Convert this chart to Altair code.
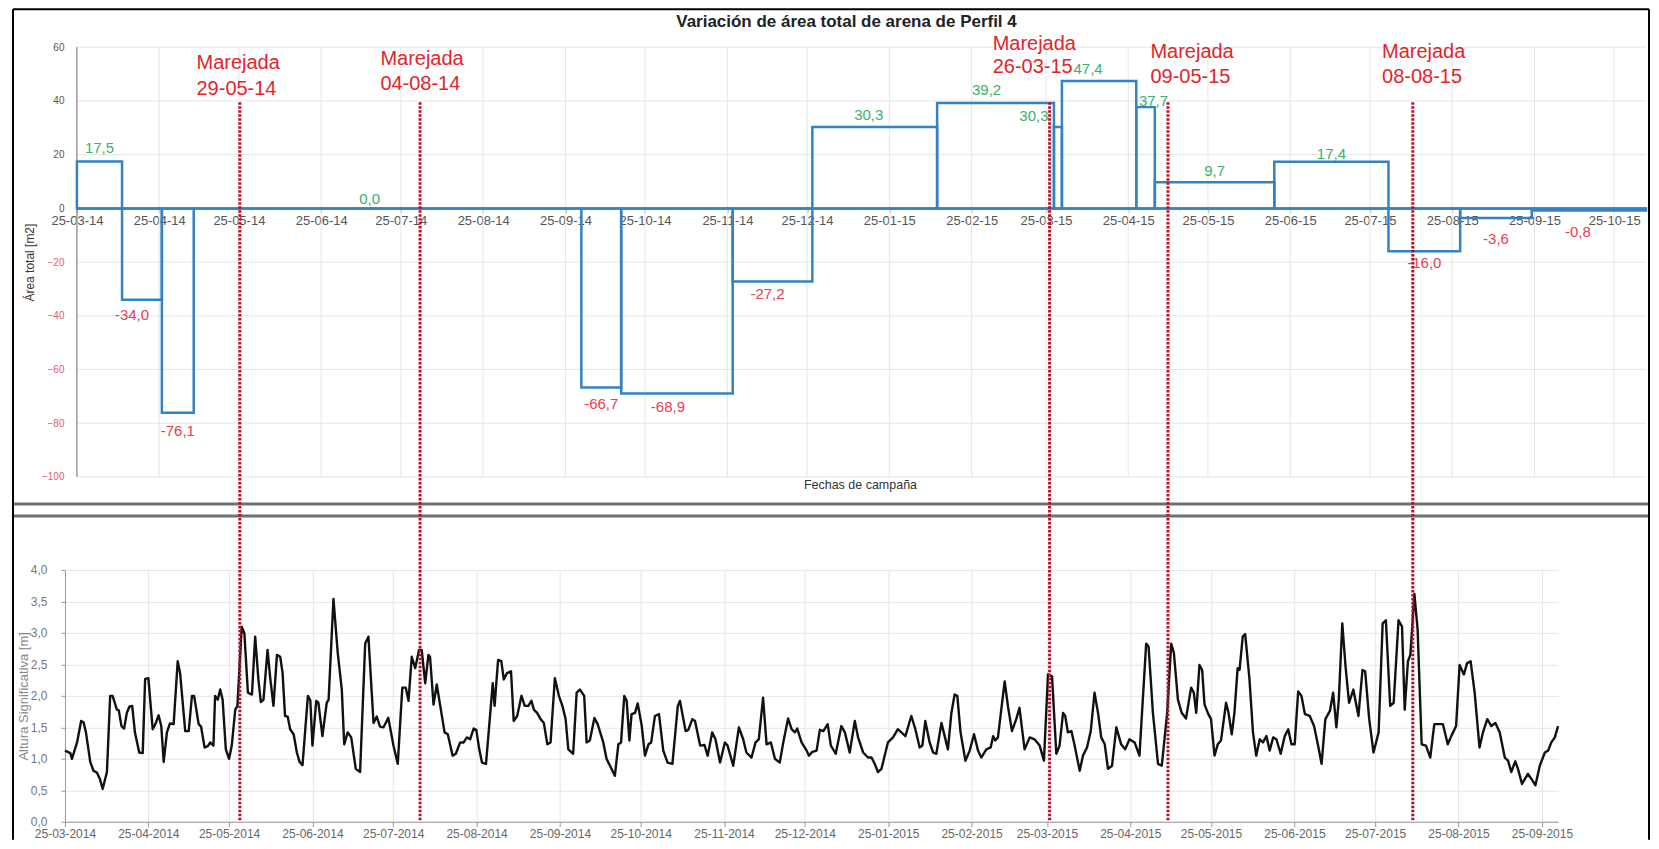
import altair as alt
import pandas as pd

# ------------------------------------------------------------------ data
chart_title = "Variación de área total de arena de Perfil 4"

campaign_start = ["2014-03-25", "2014-04-11", "2014-04-26", "2014-05-08", "2014-10-01",
                  "2014-10-16", "2014-11-27", "2014-12-27", "2015-02-12", "2015-03-28",
                  "2015-03-31", "2015-04-28", "2015-05-05", "2015-06-19", "2015-08-01",
                  "2015-08-28", "2015-09-24"]
campaign_end = campaign_start[1:] + ["2015-11-06"]
area_change = [17.5, -34.0, -76.1, 0.0, -66.7, -68.9, -27.2, 30.3, 39.2, 30.3,
               47.4, 37.7, 9.7, 17.4, -16.0, -3.6, -0.8]

event_dates = ["2014-05-29", "2014-08-04", "2015-03-26", "2015-05-09", "2015-08-08"]
event_texts = ["29-05-14", "04-08-14", "26-03-15", "09-05-15", "08-08-15"]

top_ticks = ["2014-03-25", "2014-04-25", "2014-05-25", "2014-06-25", "2014-07-25",
             "2014-08-25", "2014-09-25", "2014-10-25", "2014-11-25", "2014-12-25",
             "2015-01-25", "2015-02-25", "2015-03-25", "2015-04-25", "2015-05-25",
             "2015-06-25", "2015-07-25", "2015-08-25", "2015-09-25", "2015-10-25"]
bottom_ticks = top_ticks[:-1]
area_ticks = [-100, -80, -60, -40, -20, 0, 20, 40, 60]
hs_ticks = [0, 0.5, 1.0, 1.5, 2.0, 2.5, 3.0, 3.5, 4.0]

# significant wave height: days since 25-03-2014, value [m]
wave_day = [0, 2, 2.6, 4.5, 6, 6.9, 7.8, 9.4, 10.6, 11.9, 13, 14, 15.6, 16.8, 17.7, 19.3, 20, 21, 22, 23,
            24, 25, 26, 27.6, 28.9, 29.8, 31, 32.6, 33.6, 34.8, 35.8, 36.7, 37.9, 39, 40.4, 41.9, 42.8,
            44.7, 46, 47.2, 48, 49.7, 50.6, 51.9, 53.1, 54, 55.2, 55.8, 56.8, 57.7, 58.6, 59.8, 61, 62,
            63.3, 64.1, 65.7, 66.7, 68, 69.5, 70.7, 71.9, 72.8, 73.8, 75.3, 76.3, 77.5, 78.8, 80, 80.9,
            81.8, 82.8, 83.7, 85, 86.2, 87.2,
            88.3, 90.3, 91.2, 92, 93.4, 94.2, 95.7, 97.3, 98, 99.8, 101.4, 102.9, 103.8, 105.1, 106.4,
            108.1, 109.7, 111.6, 112.8, 114.7, 115.9, 117.1, 118.4, 120.2, 122.1, 123.7, 125.4, 126.7,
            127.7, 128.9, 130.2, 131.6, 132.6, 133.9, 135.1, 135.7, 137, 138.2, 139.5, 141.1, 142.3,
            144.1, 145.3, 146.9, 148.2, 149.4, 150.6, 151.9, 152.9, 154, 155, 156.5, 158.1, 159, 159.7,
            161, 162.2, 163.1, 164.3, 165.8, 166.8, 168.1, 169.7, 170.9, 172.2, 173.4, 174.3, 175.5,
            176.8, 178, 179.3, 180.5, 182.1, 183.6, 184.9, 186.1, 187.1, 188.9,
            190.2, 191.4, 193, 193.9, 195.1, 196.8, 198, 200.1, 201.3, 202.6, 204.4, 205.7, 206.7,
            207.9, 208.8, 209.8, 210.6, 211.9, 212.9, 214.4, 215.6, 216.9, 217.9, 219.3, 220.8, 222.4,
            224, 225.8, 227.8, 228.6, 230.7, 231.7, 233.2, 234.2, 236.1, 237.7, 238.9, 240.6, 241.8,
            243.5, 245.3, 246.3, 248.4, 250.5, 252.1, 253.3, 255.2, 256.7, 257.9, 259.5, 260.8, 262.4,
            263.9, 265.7, 267, 268.8, 270.1, 271.3, 272.2, 273.8, 275.7, 276.5, 277.8, 279.4, 280.6,
            281.9, 283.5, 284.7, 286.5,
            288.6, 289.9, 291.7, 293.6, 294.8, 296.7, 298.5, 299.8, 301, 302.2, 303.5, 305.9, 307.8,
            309.6, 310.9, 312.4, 314.6, 316.1, 317.7, 318.7, 319.8, 321.4, 322.7, 323.9, 325.8, 327,
            328.2, 329.5, 330.7, 331.7, 332.9, 334.7, 336.3, 337.9, 339.4, 340.6, 342.5, 344.1, 345,
            345.8, 346.8, 349.3, 350.5, 352, 353.6, 354.8, 356.7, 358.6, 360.4, 362.3, 363.9, 365.4,
            366.9, 368.5, 369.7, 371, 371.8, 372.8, 374.1, 375.3, 377.2, 378.4, 379.9, 381.3, 382.7,
            384, 385.2, 386.5, 387.7, 389.2, 390.8,
            392.6, 394.1, 395.7, 397.6, 399.4, 401.9, 402.8, 404.4, 406.3, 407.7, 409.7, 411.2, 412.2,
            413.7, 415.1, 416.7, 418.6, 419.6, 420.5, 421.7, 422.7, 423.6, 425, 426, 427.3, 428.5,
            429.7, 431.6, 432.5, 433.7, 434.7, 435.9, 436.6, 437.8, 438.7, 440.3, 441.6, 442.8, 444.1,
            445.3, 446.6, 447.8, 449.1, 450.3, 451.9, 453.4, 454.7, 455.9, 457.1, 458.4, 459.6, 460.9,
            462.7, 464.3, 465.8, 467.1, 468.5, 470.2, 471.4, 472.6, 473.5, 474.8, 476, 477.3, 478.9,
            480.8, 482.3, 483.3, 484.8, 486.4, 488.3, 489.8, 491, 492.6, 493.9, 495.7, 497, 498, 499.2,
            500.1,
            501.6, 502.8, 504.3, 505.9, 507.5, 509, 510.3, 512.2, 514, 515.3, 517.1, 518.4, 520, 521.2,
            522.5, 524, 525.8, 527.1, 528.7, 530.2, 531.7, 533.3, 535.2, 536.4, 537.6, 539.1, 540.1,
            541.6, 543.8, 545.1, 546.6, 548.2, 550.1, 551.3, 552.5, 553.8, 555]
wave_hs = [1.13, 1.09, 1.0, 1.26, 1.6, 1.58, 1.42, 0.95, 0.81, 0.78, 0.68, 0.52, 0.79, 2.0, 2.0, 1.78, 1.77,
           1.52, 1.48, 1.73, 1.83, 1.84, 1.42, 1.1, 1.09, 2.27, 2.28, 1.47, 1.55, 1.69, 1.52, 0.95, 1.42,
           1.56, 1.55, 2.55, 2.36, 1.44, 1.44, 2.0, 2.0, 1.55, 1.51, 1.18, 1.2, 1.26, 1.21, 2.0, 1.94,
           2.1, 1.94, 1.15, 1.0, 1.21, 1.78, 1.84, 3.1, 2.99, 2.05, 2.02, 2.94, 2.26, 1.9, 1.94, 2.73,
           2.28, 1.84, 2.65, 2.62, 2.36, 1.68, 1.67, 1.47, 1.39, 1.1, 0.95,
           0.9, 2.0, 1.93, 1.21, 1.92, 1.89, 1.36, 1.89, 1.94, 3.54, 2.68, 2.1, 1.23, 1.42, 1.34, 0.84,
           0.79, 2.83, 2.94, 1.57, 1.67, 1.51, 1.5, 1.65, 1.21, 0.92, 2.13, 2.13, 1.92, 2.62, 2.44, 2.73,
           2.73, 2.2, 2.65, 2.62, 1.86, 2.18, 1.84, 1.42, 1.39, 1.05, 1.08, 1.26, 1.26, 1.34, 1.31, 1.48,
           1.46, 1.15, 0.94, 0.92, 1.73, 2.2, 1.84, 2.57, 2.55, 2.26, 2.36, 2.39, 1.6, 1.68, 2.0, 1.84,
           1.84, 1.92, 1.78, 1.73, 1.63, 1.57, 1.23, 1.26, 2.28, 2.0, 1.84, 1.63, 1.15, 1.08,
           2.05, 2.1, 2.0, 1.26, 1.29, 1.65, 1.55, 1.26, 1.0, 0.89, 0.73, 1.23, 1.26, 2.0, 1.92, 1.29,
           1.71, 1.73, 1.88, 1.52, 1.05, 1.23, 1.26, 1.68, 1.71, 1.13, 0.94, 0.92, 1.84, 1.92, 1.44,
           1.46, 1.63, 1.6, 1.21, 1.22, 1.05, 1.42, 1.31, 0.94, 1.26, 1.21, 0.89, 1.5, 1.31, 1.1, 1.02,
           1.26, 1.31, 1.97, 1.23, 1.26, 1.0, 0.94, 1.26, 1.64, 1.47, 1.42, 1.48, 1.26, 1.13, 1.05, 1.11,
           1.13, 1.46, 1.44, 1.55, 1.21, 1.08,
           1.52, 1.42, 1.1, 1.6, 1.34, 1.1, 1.02, 1.02, 0.92, 0.79, 0.84, 1.26, 1.34, 1.47, 1.42, 1.36,
           1.68, 1.47, 1.18, 1.21, 1.6, 1.26, 1.1, 1.08, 1.57, 1.36, 1.15, 1.73, 2.02, 2.0, 1.42, 0.97,
           1.13, 1.39, 1.13, 1.02, 1.15, 1.18, 1.36, 1.29, 1.34, 2.23, 1.84, 1.44, 1.63, 1.81, 1.15,
           1.34, 1.31, 1.21, 0.97, 2.34, 2.31, 1.08, 1.21, 1.73, 1.68, 1.42, 1.44, 1.21, 0.81, 1.05,
           1.18, 1.44, 2.05, 1.73, 1.34, 1.23, 0.84, 0.89, 1.5,
           1.23, 1.15, 1.31, 1.26, 1.05, 2.83, 2.78, 1.73, 0.92, 0.89, 1.73, 2.83, 2.68, 1.94, 1.73,
           1.64, 2.13, 2.05, 1.73, 2.49, 2.41, 1.86, 1.71, 1.63, 1.05, 1.23, 1.29, 1.89, 1.73, 1.39,
           1.73, 2.44, 2.41, 2.94, 2.98, 2.26, 1.42, 1.05, 1.31, 1.26, 1.36, 1.13, 1.34, 1.31, 1.08,
           1.36, 1.47, 1.23, 1.23, 2.07, 2.0, 1.71, 1.68, 1.52, 1.21, 0.92, 1.63, 1.76, 2.05, 1.5, 1.94,
           3.15, 2.47, 1.89, 2.1, 1.68, 2.41, 2.39, 1.63, 1.1, 1.42, 3.15, 3.2, 1.84, 1.89, 3.2, 3.1,
           1.78, 2.55, 2.65,
           3.62, 3.05, 1.23, 1.21, 1.02, 1.55, 1.55, 1.55, 1.23, 1.36, 1.52, 2.49, 2.34, 2.52, 2.55,
           2.05, 1.18, 1.42, 1.63, 1.52, 1.57, 1.42, 1.02, 0.97, 0.79, 0.96, 0.84, 0.6, 0.76, 0.68,
           0.58, 0.89, 1.1, 1.13, 1.26, 1.34, 1.52]

# ------------------------------------------------------------------ styling / layout
FONT = "Liberation Sans"
W_TOP, H_TOP = 1582, 430
W_BOT, H_BOT = 1494, 252
GAP = 93

BLUE = "#3282c4"
GREEN = "#3daf6d"
RED_VAL = "#e5404f"
RED_TXT = "#e3242b"
RED_LINE = "#b0142c"
GRID = "#e6e6e6"

# per-label nudges (pixels) for the value annotations
value_dx = [0, -10, 0, -18, 0, -9, -5, -6, -9, -24, -11, 8, 0, 0, 0, 0, -11]
value_dy = [-13, 15, 18, -9, 16, 14, 13, -12, -13, -11, -12, -6, -11, -8, 12, 21, 21]
# storm label placement (pixels)
storm_dx = [-53, -47, -56, -15, -25]
storm_y1 = [16, 12, -3, 5, 5]
storm_y2 = [42, 37, 20, 30, 30]


def ms(s):
    return int(pd.Timestamp(s, tz="UTC").value // 10**6)


DAY = 86400000
top_dom = [ms("2014-03-20 12:00"), ms("2015-11-06")]
bot_dom = [ms("2014-03-25"), ms("2015-10-01")]


def px_top(t):
    return (t - top_dom[0]) / (top_dom[1] - top_dom[0]) * W_TOP


x_axis_px = px_top(ms("2014-03-25"))
y0_px = 60 / 160 * H_TOP

xs_top = alt.Scale(type="utc", domain=top_dom)
ys_top = alt.Scale(domain=[-100, 60], nice=False, zero=False)
xs_bot = alt.Scale(type="utc", domain=bot_dom)
ys_bot = alt.Scale(domain=[0, 4], nice=False, zero=False)

x_axis_top = alt.Axis(values=[ms(d) for d in top_ticks], format="%d-%m-%y",
                      offset=-(H_TOP - y0_px), domain=False, ticks=True, tickSize=4,
                      tickColor="#9a9a9a", grid=False,
                      labelFontSize=13, labelColor="#555555", labelPadding=2,
                      labelFlush=False, labelOverlap=False, title=None)
y_axis_top = alt.Axis(values=area_ticks, domain=False, ticks=False, grid=False,
                      labelPadding=1, labelFontSize=10,
                      labelColor={"condition": {"test": "datum.value < 0", "value": "#e25b6b"},
                                  "value": "#555555"},
                      title="Área total [m2]", titleFontSize=12, titleFontWeight="normal",
                      titleColor="#333333", titlePadding=5)
x_axis_bot = alt.Axis(values=[ms(d) for d in bottom_ticks], format="%d-%m-%Y",
                      labelFontSize=12, labelColor="#666666", domainColor="#999999",
                      tickColor="#999999", tickSize=5, labelPadding=2, labelFlush=False,
                      labelOverlap=False, grid=True, gridColor=GRID, title=None)
y_axis_bot = alt.Axis(values=hs_ticks,
                      labelExpr="replace(format(datum.value, '.1f'), '.', ',')",
                      labelFontSize=12, labelColor="#777777", domainColor="#999999",
                      tickColor="#999999", tickSize=4, labelPadding=14, grid=True, gridColor=GRID,
                      title="Altura Significativa [m]", titleFontSize=13, titleFontWeight="normal",
                      titleColor="#888888", titlePadding=0)


def XT(field):
    return alt.X(field, type="temporal", scale=xs_top, axis=x_axis_top)


def YT(field):
    return alt.Y(field, type="quantitative", scale=ys_top, axis=y_axis_top)


def XB(field):
    return alt.X(field, type="temporal", scale=xs_bot, axis=x_axis_bot)


one = pd.DataFrame({"a": [0]})

# ------------------------------------------------------------------ top panel
camp = pd.DataFrame({
    "start": [ms(d) for d in campaign_start],
    "end": [ms(d) for d in campaign_end],
    "value": area_change,
})
camp["mid"] = (camp["start"] + camp["end"]) / 2
camp["zero"] = 0
camp["label"] = [f"{v:.1f}".replace(".", ",") for v in area_change]

events = pd.DataFrame({"d": [ms(d) for d in event_dates], "txt": event_texts})
events["m"] = "Marejada"

top_layers = []

top_layers.append(
    alt.Chart(pd.DataFrame({"value": area_ticks})).mark_rule(color=GRID, strokeWidth=1).encode(
        y=YT("value"), x=alt.value(x_axis_px), x2=alt.value(W_TOP)))
top_layers.append(
    alt.Chart(pd.DataFrame({"start": [ms(d) for d in top_ticks[1:]]})).mark_rule(
        color=GRID, strokeWidth=1).encode(
        x=XT("start"), y=alt.value(0), y2=alt.value(H_TOP)))
top_layers.append(
    alt.Chart(one).mark_rule(color="#9a9a9a", strokeWidth=1.5).encode(
        x=alt.value(x_axis_px), y=alt.value(0), y2=alt.value(H_TOP)))
top_layers.append(
    alt.Chart(one).mark_rule(color="#4f86bd", strokeWidth=2.5).encode(
        x=alt.value(x_axis_px), x2=alt.value(W_TOP), y=alt.value(y0_px)))

top_layers.append(
    alt.Chart(camp).mark_rect(fillOpacity=0, stroke=BLUE, strokeWidth=2.5).encode(
        x=XT("start"), x2="end:T", y=YT("value"), y2="zero:Q"))

for i in range(len(camp)):
    col = GREEN if area_change[i] >= 0 else RED_VAL
    top_layers.append(
        alt.Chart(camp.iloc[[i]]).mark_text(fontSize=15, color=col, dx=value_dx[i], dy=value_dy[i],
                                            baseline="middle", align="center").encode(
            x=XT("mid"), y=YT("value"), text="label:N"))

for i in range(len(events)):
    ev = events.iloc[[i]]
    top_layers.append(
        alt.Chart(ev).mark_text(fontSize=20, color=RED_TXT, align="left", baseline="middle",
                                dx=storm_dx[i]).encode(
            x=XT("d"), y=alt.value(storm_y1[i]), text="m:N"))
    top_layers.append(
        alt.Chart(ev).mark_text(fontSize=20, color=RED_TXT, align="left", baseline="middle",
                                dx=storm_dx[i]).encode(
            x=XT("d"), y=alt.value(storm_y2[i]), text="txt:N"))

top_layers.append(
    alt.Chart(pd.DataFrame({"t": [chart_title]})).mark_text(
        fontSize=17, fontWeight="bold", color="#222222", baseline="middle").encode(
        x=alt.value(782), y=alt.value(-25), text="t:N"))
top_layers.append(
    alt.Chart(pd.DataFrame({"t": ["Fechas de campaña"]})).mark_text(
        fontSize=12.5, color="#333333", baseline="middle").encode(
        x=alt.value(796), y=alt.value(H_TOP + 8), text="t:N"))

top = alt.layer(*top_layers).properties(width=W_TOP, height=H_TOP)

# ------------------------------------------------------------------ bottom panel
start_ms = ms("2014-03-25")
wave = pd.DataFrame({"t": [start_ms + d * DAY for d in wave_day], "hs": wave_hs})

L, R = -52, 1585
bot_layers = [
    alt.Chart(wave).mark_line(color="#111111", strokeWidth=2.4, strokeJoin="round").encode(
        x=XB("t"), y=alt.Y("hs:Q", scale=ys_bot, axis=y_axis_bot)),
    alt.Chart(one).mark_rule(color="#707070", strokeWidth=3).encode(
        x=alt.value(L), x2=alt.value(R), y=alt.value(-66)),
    alt.Chart(one).mark_rule(color="#707070", strokeWidth=3).encode(
        x=alt.value(L), x2=alt.value(R), y=alt.value(-54)),
    alt.Chart(events.rename(columns={"d": "t"})).mark_rule(
        color=RED_LINE, strokeWidth=3, strokeDash=[2.5, 1.5]).encode(
        x=XB("t"), y=alt.value(-468), y2=alt.value(H_BOT)),
    alt.Chart(one).mark_rule(color="#000000", strokeWidth=2).encode(
        x=alt.value(L), x2=alt.value(R), y=alt.value(-561)),
    alt.Chart(one).mark_rule(color="#000000", strokeWidth=2).encode(
        x=alt.value(L), y=alt.value(-561), y2=alt.value(270)),
    alt.Chart(one).mark_rule(color="#000000", strokeWidth=2).encode(
        x=alt.value(R), y=alt.value(-561), y2=alt.value(270)),
]
bottom = alt.layer(*bot_layers).properties(width=W_BOT, height=H_BOT)

chart = (
    alt.vconcat(top, bottom, spacing=GAP, bounds="flush")
    .properties(padding={"left": 3, "top": 0, "right": 0, "bottom": 0})
    .configure(font=FONT)
    .configure_view(stroke=None)
)

chart.save("out.html", embed_options={"renderer": "svg", "actions": False})
